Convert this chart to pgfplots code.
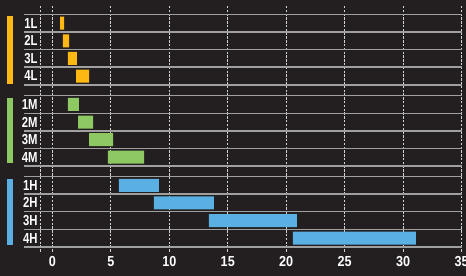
\documentclass[border=0pt]{standalone}
\usepackage{fontspec}
\setmainfont{Liberation Sans}
\newfontfamily\condlab[FakeStretch=0.78]{Liberation Sans}
\newfontfamily\condtick[FakeStretch=0.87]{Liberation Sans}
\usepackage{pgfplots}
\pgfplotsset{compat=1.18}
\usepackage{pgfplotstable}
\definecolor{bg}{HTML}{231F20}
\definecolor{cL}{HTML}{FDB813}
\definecolor{cM}{HTML}{8DC862}
\definecolor{cH}{HTML}{5AB0E2}
\definecolor{hline}{HTML}{A0A0A0}
\definecolor{gridc}{HTML}{D2D2D2}

\pgfplotstableread{
y      start  lenL  lenM  lenH
23.15  0.66   0.34  0     0
40.8   0.91   0.52  0     0
58.4   1.34   0.77  0     0
76.0   2.03   1.11  0     0
104.4  1.34   0     0.94  0
122.0  2.20   0     1.28  0
139.6  3.14   0     2.05  0
157.2  4.76   0     3.08  0
185.3  5.70   0     0     3.42
202.9  8.69   0     0     5.13
220.5  13.39  0     0     7.51
238.1  20.57  0     0     10.51
}\bars

\begin{document}
\begin{tikzpicture}
\fill[bg] (0,0) rectangle (466bp,276bp);
\useasboundingbox (0,0) rectangle (466bp,276bp);
\begin{axis}[
  at={(24bp,270bp)}, anchor=north west,
  scale only axis, width=437.7bp, height=246bp,
  xmin=-2.42, xmax=35, ymin=6, ymax=252, y dir=reverse,
  xbar stacked, bar width=13bp,
  axis line style={draw=none},
  major tick length=0pt,
  xtick={0,5,10,15,20,25,30,35},
  xticklabels={0,5,10,15,20,25,30,35},
  xticklabel style={font=\condtick\bfseries\fontsize{14.5bp}{15bp}\selectfont, text=white, yshift=-1bp},
  extra x ticks={-1}, extra x tick labels={},
  xmajorgrids,
  major grid style={draw=gridc, line width=1.3bp, dash pattern=on 2.4bp off 1.4bp},
  ytick=\empty,
  extra y ticks={14.3,32.0,49.6,67.2,84.8,95.6,113.2,130.8,148.4,166.0,176.5,194.1,211.7,229.3,246.9},
  extra y tick labels={},
  extra y tick style={grid=major, major grid style={draw=hline, solid, line width=1.4bp}},
  clip=false,
]
\addplot[draw=none, fill=none] table[x=start, y=y] {\bars};
\addplot[draw=none, fill=cL] table[x=lenL, y=y] {\bars};
\addplot[draw=none, fill=cM] table[x=lenM, y=y] {\bars};
\addplot[draw=none, fill=cH] table[x=lenH, y=y] {\bars};

\fill[cL] (axis cs:-3.87,16) rectangle (axis cs:-3.36,83.7);
\fill[cM] (axis cs:-3.87,98) rectangle (axis cs:-3.36,162.7);
\fill[cH] (axis cs:-3.87,179) rectangle (axis cs:-3.36,244.7);

\tikzset{rl/.style={anchor=east, inner sep=0pt, text=white, font=\condlab\bfseries\fontsize{14.5bp}{15bp}\selectfont}}
\node[rl] at (axis cs:-1.25,23.15) {1L};
\node[rl] at (axis cs:-1.25,40.8) {2L};
\node[rl] at (axis cs:-1.25,58.4) {3L};
\node[rl] at (axis cs:-1.25,76.0) {4L};
\node[rl] at (axis cs:-1.25,104.4) {1M};
\node[rl] at (axis cs:-1.25,122.0) {2M};
\node[rl] at (axis cs:-1.25,139.6) {3M};
\node[rl] at (axis cs:-1.25,157.2) {4M};
\node[rl] at (axis cs:-1.25,185.3) {1H};
\node[rl] at (axis cs:-1.25,202.9) {2H};
\node[rl] at (axis cs:-1.25,220.5) {3H};
\node[rl] at (axis cs:-1.25,238.1) {4H};
\end{axis}
\end{tikzpicture}
\end{document}
